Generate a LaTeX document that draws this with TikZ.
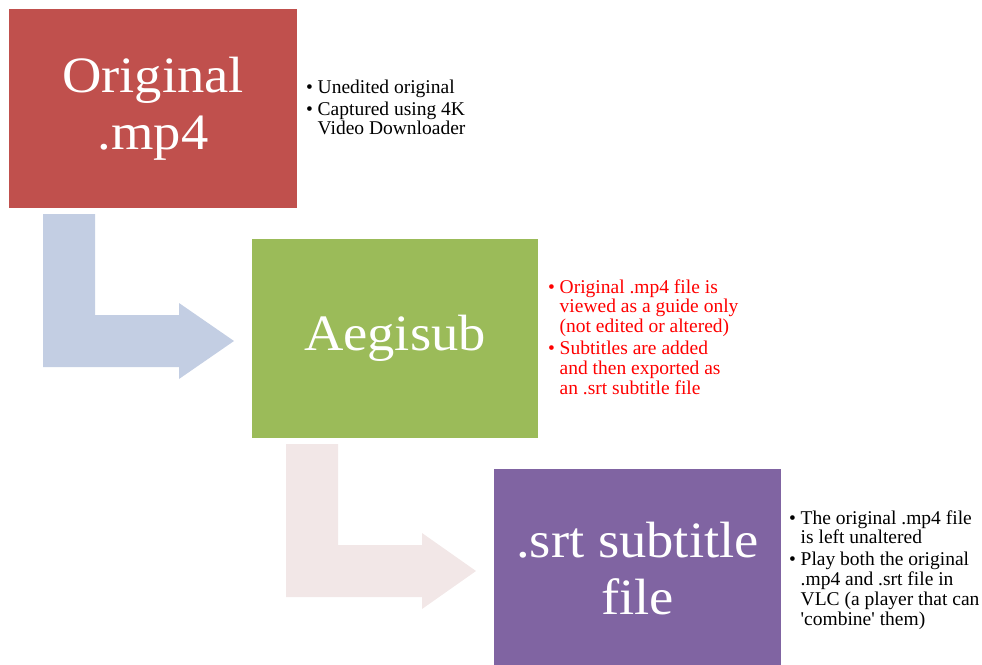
\documentclass[tikz,border=0pt]{standalone}
\usepackage{fontspec}
\setmainfont{Liberation Serif}
\newfontfamily\quotefont[Ligatures=TeXOff]{Liberation Serif}
\newfontfamily\boxfont[FakeStretch=1.07]{Liberation Serif}
\definecolor{redbox}{HTML}{C0504D}
\definecolor{greenbox}{HTML}{9BBB59}
\definecolor{purplebox}{HTML}{8064A2}
\definecolor{bluearrow}{HTML}{C3CEE3}
\definecolor{pinkarrow}{HTML}{F2E7E7}
\definecolor{redtext}{HTML}{FF0000}
\newcommand{\bitem}[1]{\par\hangindent=11.5pt\hangafter=1\noindent\makebox[11.5pt][l]{\textbullet}#1}
\newcommand{\notelist}[1]{\parbox[t]{200pt}{\raggedright\fontsize{19.5}{19.7}\selectfont\setlength{\parskip}{2.5pt}#1}}
\begin{document}
\begin{tikzpicture}[x=1pt,y=-1pt,
  stepbox/.style={rectangle, inner sep=0pt, minimum width=#1, minimum height=199pt, text=white,
    align=center, font=\boxfont\fontsize{51}{57}\selectfont},
  notes/.style={anchor=base west, inner sep=0pt}]
\useasboundingbox (0,0) rectangle (982,664);
% bent arrows
\fill[bluearrow] (43,214) -- (95,214) -- (95,315) -- (179,315) -- (179,303) -- (234,341)
  -- (179,379) -- (179,367) -- (43,367) -- cycle;
\fill[pinkarrow] (286,444) -- (338,444) -- (338,545) -- (422,545) -- (422,533) -- (476,571)
  -- (422,609) -- (422,597) -- (286,597) -- cycle;
% boxes
\node[stepbox=288pt, fill=redbox] (b1) at (153,108.5) {Original\\.mp4};
\node[stepbox=286pt, fill=greenbox] (b2) at (395,338.5) {Aegisub};
\node[stepbox=287pt, fill=purplebox] (b3) at (637.5,568.5) {.srt subtitle\\file};
% notes
\node[notes] (n1) at (306,93) {\notelist{%
  \bitem{Unedited original}
  \bitem{Captured using 4K\newline Video Downloader}}};
\node[notes, text=redtext] (n2) at (548,293) {\notelist{%
  \bitem{Original .mp4 file is\newline viewed as a guide only\newline (not edited or altered)}
  \bitem{Subtitles are added\newline and then exported as\newline an .srt subtitle file}}};
\node[notes] (n3) at (789,524) {\notelist{%
  \bitem{The original .mp4 file\newline is left unaltered}
  \bitem{Play both the original\newline .mp4 and .srt file in\newline VLC (a player that can\newline {\quotefont 'combine'} them)}}};
\end{tikzpicture}
\end{document}
